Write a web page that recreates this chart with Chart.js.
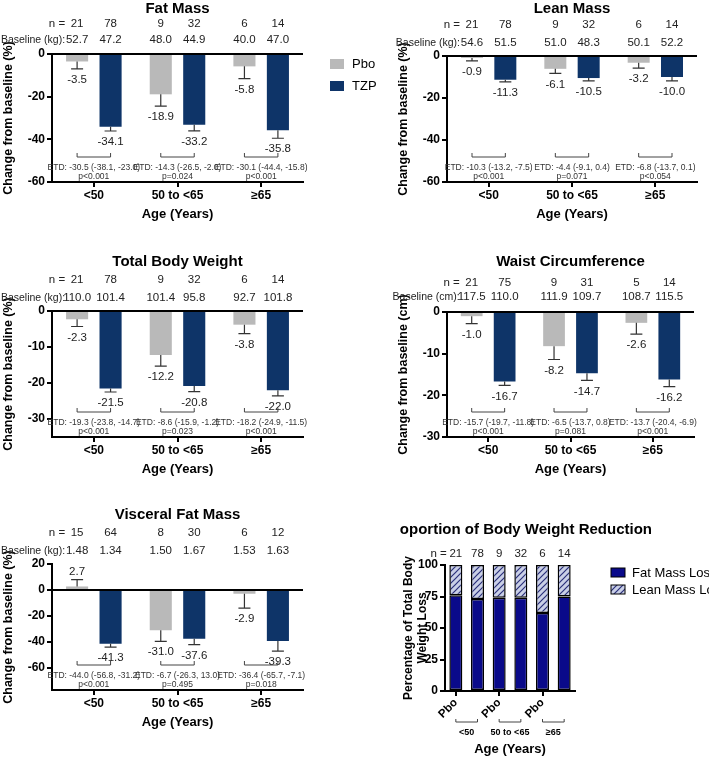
<!DOCTYPE html>
<html><head><meta charset="utf-8">
<script src="https://cdn.jsdelivr.net/npm/chart.js@4.4.0/dist/chart.umd.min.js"></script>
<style>body{margin:0;background:#fff;width:709px;height:759px;position:relative;overflow:hidden}canvas{position:absolute}</style>
</head><body>
<canvas id="c1" width="400" height="230" style="left:0;top:0"></canvas>
<canvas id="c2" width="349" height="230" style="left:360px;top:0"></canvas>
<canvas id="c3" width="360" height="245" style="left:0;top:235px"></canvas>
<canvas id="c4" width="349" height="245" style="left:360px;top:235px"></canvas>
<canvas id="c5" width="360" height="289" style="left:0;top:470px"></canvas>
<canvas id="c6" width="309" height="239" style="left:400px;top:520px"></canvas>
<script>
const AGE = ['<50', '50 to <65', '≥65'];
const SERIES = ['Pbo', 'TZP'];

const fatPbo = [-3.5, -18.9, -5.8], fatTzp = [-34.1, -33.2, -35.8];
const fatPboErr = [3.5, 5.5, 5.7], fatTzpErr = [2.0, 2.8, 3.7];
const fatN = [[21, 78], [9, 32], [6, 14]];
const fatBase = [['52.7', '47.2'], ['48.0', '44.9'], ['40.0', '47.0']];
const fatEtd = ['ETD: -30.5 (-38.1, -23.0)', 'ETD: -14.3 (-26.5, -2.0)', 'ETD: -30.1 (-44.4, -15.8)'];
const fatP = ['p<0.001', 'p=0.024', 'p<0.001'];

const leanPbo = [-0.9, -6.1, -3.2], leanTzp = [-11.3, -10.5, -10.0];
const leanPboErr = [1.4, 2.2, 2.6], leanTzpErr = [1.0, 1.3, 1.8];
const leanN = [[21, 78], [9, 32], [6, 14]];
const leanBase = [['54.6', '51.5'], ['51.0', '48.3'], ['50.1', '52.2']];
const leanEtd = ['ETD: -10.3 (-13.2, -7.5)', 'ETD: -4.4 (-9.1, 0.4)', 'ETD: -6.8 (-13.7, 0.1)'];
const leanP = ['p<0.001', 'p=0.071', 'p<0.054'];

const tbwPbo = [-2.3, -12.2, -3.8], tbwTzp = [-21.5, -20.8, -22.0];
const tbwPboErr = [2.0, 3.1, 2.5], tbwTzpErr = [1.0, 1.6, 1.6];
const tbwN = [[21, 78], [9, 32], [6, 14]];
const tbwBase = [['110.0', '101.4'], ['101.4', '95.8'], ['92.7', '101.8']];
const tbwEtd = ['ETD: -19.3 (-23.8, -14.7)', 'ETD: -8.6 (-15.9, -1.2)', 'ETD: -18.2 (-24.9, -11.5)'];
const tbwP = ['p<0.001', 'p=0.023', 'p<0.001'];

const waistPbo = [-1.0, -8.2, -2.6], waistTzp = [-16.7, -14.7, -16.2];
const waistPboErr = [1.8, 3.2, 2.7], waistTzpErr = [0.9, 1.7, 1.7];
const waistN = [[21, 75], [9, 31], [5, 14]];
const waistBase = [['117.5', '110.0'], ['111.9', '109.7'], ['108.7', '115.5']];
const waistEtd = ['ETD: -15.7 (-19.7, -11.8)', 'ETD: -6.5 (-13.7, 0.8)', 'ETD: -13.7 (-20.4, -6.9)'];
const waistP = ['p<0.001', 'p=0.081', 'p<0.001'];

const visPbo = [2.7, -31.0, -2.9], visTzp = [-41.3, -37.6, -39.3];
const visPboErr = [5.3, 8.5, 11.0], visTzpErr = [2.7, 4.4, 7.7];
const visN = [[15, 64], [8, 30], [6, 12]];
const visBase = [['1.48', '1.34'], ['1.50', '1.67'], ['1.53', '1.63']];
const visEtd = ['ETD: -44.0 (-56.8, -31.2)', 'ETD: -6.7 (-26.3, 13.0)', 'ETD: -36.4 (-65.7, -7.1)'];
const visP = ['p<0.001', 'p=0.495', 'p=0.018'];

const propLabels = ['Pbo', 'TZP', 'Pbo', 'TZP', 'Pbo', 'TZP'];
const propN = [21, 78, 9, 32, 6, 14];
const propFat = [76, 73, 74, 74, 62, 75];
const propLean = [24, 27, 26, 26, 38, 25];

const FONT = 'Liberation Sans, Arial, sans-serif';
const GRAY = '#b9b9b9', NAVY = '#0e3468';
Chart.defaults.font.family = FONT;
Chart.defaults.color = '#000';

const annot = {
  id: 'annot',
  afterDatasetsDraw(chart, args, o) {
    const c = chart.ctx, ca = chart.chartArea, ys = chart.scales.y;
    const m0 = chart.getDatasetMeta(0), m1 = chart.getDatasetMeta(1);
    c.save();
    c.fillStyle = '#000'; c.textAlign = 'center'; c.textBaseline = 'middle';
    c.font = 'bold 15px ' + FONT;
    c.fillText(o.title, (ca.left + ca.right) / 2, o.titleY);
    c.font = '11.5px ' + FONT; c.fillStyle = '#222';
    const x0 = m0.data[0].x;
    c.textAlign = 'right';
    c.fillText('n =', x0 - 12, o.nY);
    c.font = '10.5px ' + FONT;
    c.fillText(o.baseLabel, x0 - 12, o.baseY);
    c.textAlign = 'center'; c.font = '11.5px ' + FONT;
    const vals = [o.v0, o.v1], errs = [o.e0, o.e1], metas = [m0, m1];
    for (let j = 0; j < 3; j++) {
      for (let s = 0; s < 2; s++) {
        const x = metas[s].data[j].x;
        c.fillStyle = '#222';
        c.fillText(String(o.n[j][s]), x, o.nY);
        c.fillText(o.base[j][s], x, o.baseY);
        const v = vals[s][j], e = errs[s][j];
        const end = v < 0 ? v - e : v + e;
        const py0 = ys.getPixelForValue(v), py1 = ys.getPixelForValue(end);
        c.strokeStyle = '#333'; c.lineWidth = 1.2;
        c.beginPath(); c.moveTo(x, py0); c.lineTo(x, py1);
        c.moveTo(x - 6, py1); c.lineTo(x + 6, py1); c.stroke();
        c.fillText(v.toFixed(1), x, py1 + (v < 0 ? 11 : -8));
      }
      const xa = m0.data[j].x, xb = m1.data[j].x, yb = ca.bottom - 25;
      c.strokeStyle = '#444'; c.lineWidth = 1;
      c.beginPath(); c.moveTo(xa, yb - 4); c.lineTo(xa, yb); c.lineTo(xb, yb); c.lineTo(xb, yb - 4); c.stroke();
      c.font = '8.5px ' + FONT; c.fillStyle = '#333';
      const xm = (xa + xb) / 2;
      c.fillText(o.etd[j], xm, ca.bottom - 14);
      c.fillText(o.p[j], xm, ca.bottom - 5);
      c.font = '11.5px ' + FONT;
    }
    if (o.legend) {
      c.fillStyle = GRAY; c.fillRect(330, 59, 14, 10);
      c.fillStyle = NAVY; c.fillRect(330, 81, 14, 10);
      c.fillStyle = '#000'; c.textAlign = 'left'; c.font = '13px ' + FONT;
      c.fillText('Pbo', 352, 64); c.fillText('TZP', 352, 86);
    }
    c.restore();
  }
};

function barChart(id, p) {
  const step = p.step;
  return new Chart(document.getElementById(id), {
    type: 'bar',
    data: { labels: AGE, datasets: [
      { label: SERIES[0], data: p.v0, backgroundColor: GRAY, barPercentage: 0.66, categoryPercentage: 0.8 },
      { label: SERIES[1], data: p.v1, backgroundColor: NAVY, barPercentage: 0.66, categoryPercentage: 0.8 }
    ]},
    options: {
      responsive: false, animation: false,
      layout: { padding: { top: p.padTop, left: p.padLeft, right: p.padRight, bottom: p.padBottom } },
      plugins: { legend: { display: false }, tooltip: { enabled: false }, annot: p },
      scales: {
        x: {
          afterFit: s => { s.height = 42; },
          grid: { drawOnChartArea: false, offset: false, tickLength: 5, tickColor: '#000', lineWidth: 2 },
          border: { color: '#000', width: 2 },
          ticks: { font: { size: 12, weight: 'bold' }, color: '#000', padding: 1 },
          title: { display: true, text: 'Age (Years)', font: { size: 13, weight: 'bold' }, color: '#000', padding: { top: 2, bottom: 2 } }
        },
        y: {
          min: p.min, max: p.max,
          afterFit: s => { s.width = 52; },
          afterBuildTicks: s => { s.ticks = s.ticks.filter(t => Math.abs(t.value % step) < 1e-6); },
          ticks: { stepSize: step, font: { size: 12, weight: 'bold' }, color: '#000', padding: 2, callback: v => v },
          grid: { drawOnChartArea: true, color: ctx => (ctx.tick && ctx.tick.value === 0) ? '#000' : 'rgba(0,0,0,0)', tickColor: '#000', tickLength: 5, lineWidth: 2 },
          border: { color: '#000', width: 2 },
          title: { display: true, text: p.yTitle, font: { size: 12.5, weight: 'bold' }, color: '#000', padding: 1 }
        }
      }
    },
    plugins: [annot]
  });
}

barChart('c1', { title: 'Fat Mass', titleY: 9, nY: 24, baseY: 40, baseLabel: 'Baseline (kg):', n: fatN, base: fatBase, etd: fatEtd, p: fatP,
  v0: fatPbo, v1: fatTzp, e0: fatPboErr, e1: fatTzpErr, min: -60, max: 0, step: 20, yTitle: 'Change from baseline (%)',
  padTop: 54, padLeft: 0, padRight: 97, padBottom: 6, legend: true });
barChart('c2', { title: 'Lean Mass', titleY: 9, nY: 25, baseY: 43, baseLabel: 'Baseline (kg):', n: leanN, base: leanBase, etd: leanEtd, p: leanP,
  v0: leanPbo, v1: leanTzp, e0: leanPboErr, e1: leanTzpErr, min: -60, max: 0, step: 20, yTitle: 'Change from baseline (%)',
  padTop: 56, padLeft: 35, padRight: 12, padBottom: 6 });
barChart('c3', { title: 'Total Body Weight', titleY: 27, nY: 45, baseY: 63, baseLabel: 'Baseline (kg):', n: tbwN, base: tbwBase, etd: tbwEtd, p: tbwP,
  v0: tbwPbo, v1: tbwTzp, e0: tbwPboErr, e1: tbwTzpErr, min: -35, max: 0, step: 10, yTitle: 'Change from baseline (%)',
  padTop: 76, padLeft: 0, padRight: 57, padBottom: 1 });
barChart('c4', { title: 'Waist Circumference', titleY: 27, nY: 48, baseY: 62, baseLabel: 'Baseline (cm):', n: waistN, base: waistBase, etd: waistEtd, p: waistP,
  v0: waistPbo, v1: waistTzp, e0: waistPboErr, e1: waistTzpErr, min: -30, max: 0, step: 10, yTitle: 'Change from baseline (cm)',
  padTop: 77, padLeft: 35, padRight: 15, padBottom: 1 });
barChart('c5', { title: 'Visceral Fat Mass', titleY: 45, nY: 63, baseY: 81, baseLabel: 'Baseline (kg):', n: visN, base: visBase, etd: visEtd, p: visP,
  v0: visPbo, v1: visTzp, e0: visPboErr, e1: visTzpErr, min: -77, max: 20, step: 20, yTitle: 'Change from baseline (%)',
  padTop: 94, padLeft: 0, padRight: 57, padBottom: 27 });

// hatch pattern
const pc = document.createElement('canvas'); pc.width = 6; pc.height = 6;
const px = pc.getContext('2d');
px.fillStyle = '#c9cfe6'; px.fillRect(0, 0, 6, 6);
px.strokeStyle = '#2a2f7a'; px.lineWidth = 1.2;
px.beginPath(); px.moveTo(0, 6); px.lineTo(6, 0); px.moveTo(-1, 1); px.lineTo(1, -1); px.moveTo(5, 7); px.lineTo(7, 5); px.stroke();
const hatch = px.createPattern ? document.createElement('canvas').getContext('2d').createPattern(pc, 'repeat') : '#aab';
const FATBLUE = '#0a0a8a';

const propAnnot = {
  id: 'propAnnot',
  afterDatasetsDraw(chart) {
    const c = chart.ctx, ca = chart.chartArea, m = chart.getDatasetMeta(0);
    c.save(); c.textAlign = 'center'; c.textBaseline = 'middle';
    c.font = 'bold 15px ' + FONT; c.fillStyle = '#000';
    c.fillText('Proportion of Body Weight Reduction', 118, 10);
    c.font = '11.5px ' + FONT; c.fillStyle = '#222';
    c.textAlign = 'right'; c.fillText('n =', m.data[0].x - 9, 34);
    c.textAlign = 'center';
    propN.forEach((n, i) => c.fillText(String(n), m.data[i].x, 34));
    for (let g = 0; g < 3; g++) {
      const xa = m.data[2 * g].x, xb = m.data[2 * g + 1].x, yb = 202;
      c.strokeStyle = '#444'; c.lineWidth = 1;
      c.beginPath(); c.moveTo(xa, yb - 3); c.lineTo(xa, yb); c.lineTo(xb, yb); c.lineTo(xb, yb - 3); c.stroke();
      c.font = 'bold 9px ' + FONT; c.fillStyle = '#000';
      c.fillText(AGE[g], (xa + xb) / 2, 213);
    }
    c.fillStyle = FATBLUE; c.fillRect(211, 48, 14, 9); c.strokeStyle = '#000'; c.strokeRect(211, 48, 14, 9);
    c.fillStyle = hatch; c.fillRect(211, 65, 14, 9); c.strokeRect(211, 65, 14, 9);
    c.fillStyle = '#000'; c.textAlign = 'left'; c.font = '13px ' + FONT;
    c.fillText('Fat Mass Loss', 232, 53); c.fillText('Lean Mass Loss', 232, 70);
    c.restore();
  }
};

new Chart(document.getElementById('c6'), {
  type: 'bar',
  data: { labels: propLabels, datasets: [
    { label: 'Fat Mass Loss', data: propFat, backgroundColor: FATBLUE, borderColor: '#000', borderWidth: 1.5, borderSkipped: false, barPercentage: 0.6, categoryPercentage: 1 },
    { label: 'Lean Mass Loss', data: propLean, backgroundColor: hatch, borderColor: '#000', borderWidth: 1.5, borderSkipped: false, barPercentage: 0.6, categoryPercentage: 1 }
  ]},
  options: {
    responsive: false, animation: false,
    layout: { padding: { top: 45, left: 0, right: 134, bottom: 0 } },
    plugins: { legend: { display: false }, tooltip: { enabled: false } },
    scales: {
      x: {
        stacked: true,
        afterFit: s => { s.height = 68; },
        grid: { drawOnChartArea: false, offset: false, tickLength: 5, tickColor: '#000', lineWidth: 2 },
        border: { color: '#000', width: 2 },
        ticks: { font: { size: 11.5, weight: 'bold' }, color: '#000', maxRotation: 45, minRotation: 45, padding: 0 },
        title: { display: true, text: 'Age (Years)', font: { size: 13, weight: 'bold' }, color: '#000', padding: { top: 0, bottom: 2 } }
      },
      y: {
        stacked: true, min: 0, max: 100,
        afterFit: s => { s.width = 45; },
        ticks: { stepSize: 25, font: { size: 12, weight: 'bold' }, color: '#000', padding: 2 },
        grid: { drawOnChartArea: false, tickColor: '#000', tickLength: 5, lineWidth: 2 },
        border: { color: '#000', width: 2 },
        title: { display: true, text: ['Percentage of Total Body', 'Weight Loss'], font: { size: 12, weight: 'bold' }, color: '#000', padding: 1 }
      }
    }
  },
  plugins: [propAnnot]
});
</script>
</body></html>
